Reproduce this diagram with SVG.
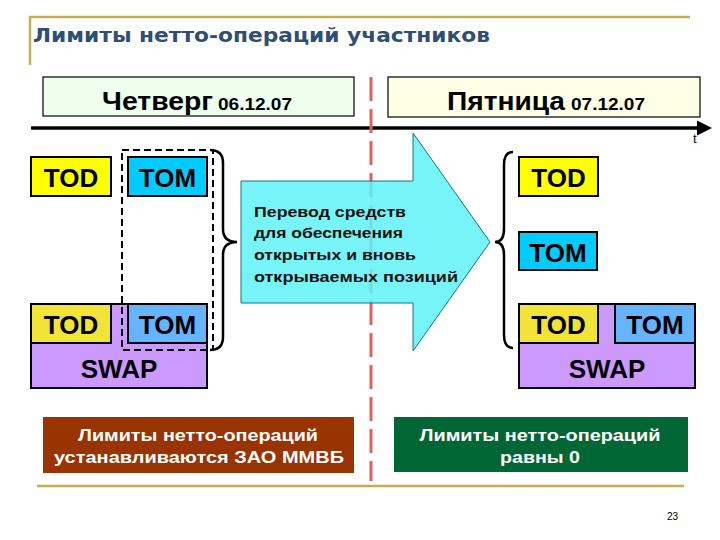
<svg xmlns="http://www.w3.org/2000/svg" width="720" height="540" viewBox="0 0 720 540">
<defs>
<style>
.box{stroke:#000;stroke-width:2}
.big{font-family:"Liberation Sans",Arial,sans-serif;font-weight:bold;font-size:26px;fill:#000;text-anchor:middle}
.day{font-family:"Liberation Sans",Arial,sans-serif;font-weight:bold;fill:#000}
.note{font-family:"Liberation Sans",Arial,sans-serif;font-weight:bold;font-size:14.5px;fill:#111}
.lim{font-family:"Liberation Sans",Arial,sans-serif;font-weight:bold;font-size:17px;fill:#fff;text-anchor:middle}
.gold{stroke:#C4AE52;stroke-width:2.5;fill:none}
.brace{stroke:#000;stroke-width:2.5;fill:none}
</style>
</defs>
<rect width="720" height="540" fill="#fff"/>
<g id="title">
<path class="gold" d="M30,65 L30,17 L690,17"/>
<text x="33" y="42" font-family="DejaVu Sans, Verdana, sans-serif" font-weight="bold" font-size="20" fill="#2E4E74" textLength="457" lengthAdjust="spacingAndGlyphs">Лимиты нетто-операций участников</text>
</g>
<line class="gold" x1="37" y1="486" x2="684" y2="486"/>
<g id="thursday">
<rect x="43" y="77" width="311" height="39" fill="#EEFFEE" stroke="#000" stroke-width="1.2"/>
<text class="day" x="102" y="110" font-size="26" textLength="111" lengthAdjust="spacingAndGlyphs">Четверг</text>
<text class="day" x="218" y="110" font-size="16" textLength="74" lengthAdjust="spacingAndGlyphs">06.12.07</text>
</g>
<g id="friday">
<rect x="388" y="77" width="312" height="40" fill="#FFFFE6" stroke="#000" stroke-width="1.2"/>
<text class="day" x="447" y="110" font-size="26" textLength="118" lengthAdjust="spacingAndGlyphs">Пятница</text>
<text class="day" x="571" y="110" font-size="16" textLength="74" lengthAdjust="spacingAndGlyphs">07.12.07</text>
</g>
<g id="timeline">
<line x1="31" y1="128" x2="699" y2="128" stroke="#000" stroke-width="3.5"/>
<polygon points="697,120.5 712,128 697,135.5" fill="#000"/>
<text x="693" y="143" font-family="Liberation Sans, Arial, sans-serif" font-size="13" fill="#000">t</text>
</g>
<g id="divider">
<line x1="371" y1="77" x2="371" y2="481" stroke="#E06060" stroke-width="3" stroke-dasharray="24 8"/>
</g>
<g id="transfer">
<polygon points="241,181 413,181 413,133 490,242 413,351 413,303 241,303" fill="#5FF2F6" fill-opacity="0.85" stroke="#1E6E7E" stroke-width="1"/>
<text class="note" x="254" y="217" textLength="152" lengthAdjust="spacingAndGlyphs">Перевод средств</text>
<text class="note" x="254" y="238" textLength="149" lengthAdjust="spacingAndGlyphs">для обеспечения</text>
<text class="note" x="254" y="260" textLength="162" lengthAdjust="spacingAndGlyphs">открытых и вновь</text>
<text class="note" x="254" y="282" textLength="204" lengthAdjust="spacingAndGlyphs">открываемых позиций</text>
</g>
<g id="left-tod">
<rect class="box" x="31" y="157" width="80" height="39" fill="#FFFF00"/>
<text class="big" x="71" y="187">TOD</text>
</g>
<g id="left-tom">
<rect class="box" x="128" y="157" width="79" height="39" fill="#00CCFF"/>
<text class="big" x="167.5" y="187">TOM</text>
</g>
<g id="left-swap">
<rect class="box" x="31" y="304" width="176" height="84" fill="#CC99FF"/>
<rect class="box" x="31" y="304" width="80" height="39" fill="#F2E338"/>
<rect class="box" x="128" y="304" width="79" height="39" fill="#66B3FF"/>
<text class="big" x="71" y="334">TOD</text>
<text class="big" x="167.5" y="334">TOM</text>
<text class="big" x="119" y="378">SWAP</text>
</g>
<g id="right-tod">
<rect class="box" x="519" y="157" width="79" height="39" fill="#FFFF00"/>
<text class="big" x="558.5" y="187">TOD</text>
</g>
<g id="right-tom">
<rect class="box" x="519" y="232" width="78" height="38" fill="#00CCFF"/>
<text class="big" x="558" y="262">TOM</text>
</g>
<g id="right-swap">
<rect class="box" x="519" y="304" width="176" height="84" fill="#CC99FF"/>
<rect class="box" x="519" y="304" width="79" height="39" fill="#F2E338"/>
<rect class="box" x="615" y="304" width="80" height="39" fill="#66B3FF"/>
<text class="big" x="558.5" y="334">TOD</text>
<text class="big" x="655" y="334">TOM</text>
<text class="big" x="607" y="378">SWAP</text>
</g>
<g id="connectors">
<rect x="122" y="150" width="91" height="200" fill="none" stroke="#000" stroke-width="2" stroke-dasharray="7 4"/>
<path class="brace" d="M210,150 Q223,150 223,163 L223,229 Q223,242 237,242 Q223,242 223,255 L223,337 Q223,350 210,350"/>
<path class="brace" d="M513,152 Q504,152 504,165 L504,229 Q504,242 495,242 Q504,242 504,255 L504,335 Q504,348 513,348"/>
</g>
<g id="limits-thursday">
<rect x="43" y="417" width="311" height="56" fill="#993300"/>
<text class="lim" x="198" y="441" textLength="240" lengthAdjust="spacingAndGlyphs">Лимиты нетто-операций</text>
<text class="lim" x="199" y="463" textLength="290" lengthAdjust="spacingAndGlyphs">устанавливаются ЗАО ММВБ</text>
</g>
<g id="limits-friday">
<rect x="394" y="417" width="294" height="55" fill="#006633"/>
<text class="lim" x="540" y="441" textLength="241" lengthAdjust="spacingAndGlyphs">Лимиты нетто-операций</text>
<text class="lim" x="540" y="463" textLength="80" lengthAdjust="spacingAndGlyphs">равны 0</text>
</g>
<text x="667" y="520" font-family="Liberation Sans, Arial, sans-serif" font-size="10" fill="#000">23</text>
</svg>
